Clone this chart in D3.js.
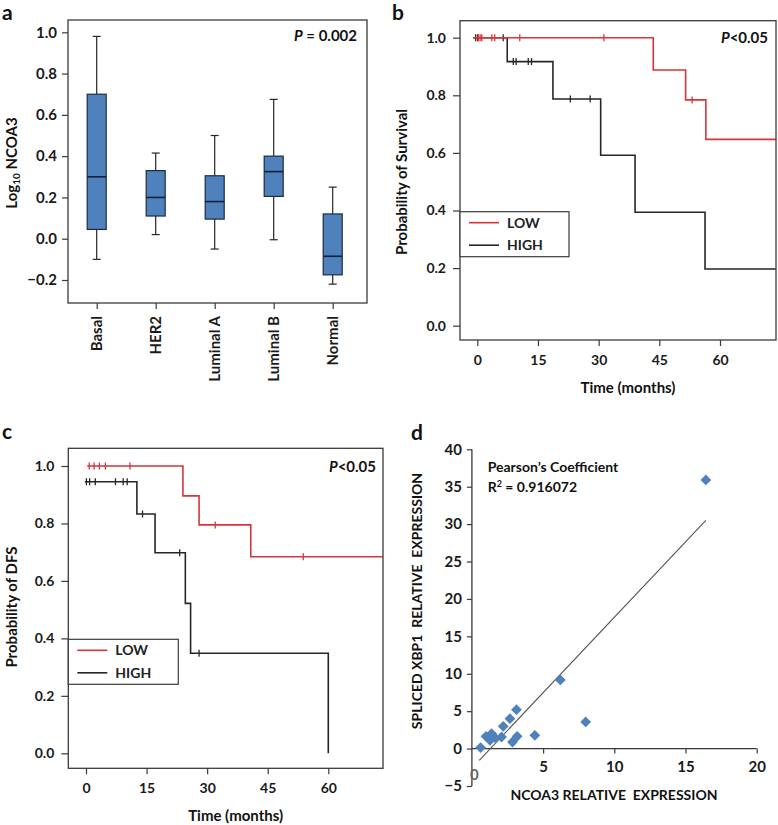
<!DOCTYPE html>
<html><head><meta charset="utf-8">
<script src="https://cdn.jsdelivr.net/npm/d3@7"></script>
<style>
html,body{margin:0;padding:0;background:#fff;}
svg text{font-family:Lato,"Open Sans",sans-serif;}
</style></head>
<body><svg id="c" width="778" height="825"></svg>
<script>
// ---------- Panel a data ----------
const categories = ["Basal","HER2","Luminal A","Luminal B","Normal"];
const boxMax    = [0.98, 0.415, 0.50, 0.675, 0.25];
const boxQ3     = [0.70, 0.33, 0.305, 0.40, 0.12];
const boxMedian = [0.30, 0.20, 0.18, 0.325, -0.085];
const boxQ1     = [0.045, 0.11, 0.095, 0.205, -0.175];
const boxMin    = [-0.10, 0.02, -0.05, -0.005, -0.22];
const aTicks = [-0.2, 0.0, 0.2, 0.4, 0.6, 0.8, 1.0];

// ---------- Panel b data (overall survival) ----------
const bLowTime  = [-1, 43.5, 51.5, 56.5, 73.8];
const bLowSurv  = [1, 0.888, 0.784, 0.647, 0.647];
const bLowCensorTime = [0.25, 0.7, 1.1, 3.6, 4.3, 10.5, 31.3, 53.1];
const bLowCensorSurv = [1, 1, 1, 1, 1, 1, 1, 0.784];
const bHighTime = [-1, 7.4, 18.7, 30.5, 39.0, 56.3, 73.8];
const bHighSurv = [1, 0.917, 0.787, 0.592, 0.394, 0.197, 0.197];
const bHighCensorTime = [-0.4, 0.1, 6.4, 8.9, 9.6, 12.6, 13.4, 23.0, 27.9];
const bHighCensorSurv = [1, 1, 1, 0.917, 0.917, 0.917, 0.917, 0.787, 0.787];

// ---------- Panel c data (DFS) ----------
const cLowTime  = [0.3, 24.0, 28.0, 40.8, 73.5];
const cLowSurv  = [1, 0.896, 0.795, 0.684, 0.684];
const cLowCensorTime = [0.8, 2.0, 3.3, 4.8, 10.9, 32.0, 53.8];
const cLowCensorSurv = [1, 1, 1, 1, 1, 0.795, 0.684];
const cHighTime = [-0.3, 12.6, 17.1, 24.6, 25.9, 60.0];
const cHighSurv = [0.945, 0.833, 0.698, 0.522, 0.348, 0.0];
const cHighCensorTime = [0.1, 0.9, 2.3, 7.3, 9.2, 10.2, 14.0, 23.2, 28.0];
const cHighCensorSurv = [0.945, 0.945, 0.945, 0.945, 0.945, 0.945, 0.833, 0.698, 0.348];
const kmXTicks = [0, 15, 30, 45, 60];
const kmYTicks = [0, 0.2, 0.4, 0.6, 0.8, 1.0];

// ---------- Panel d data ----------
const ncoa3 = [0.61, 0.99, 1.38, 1.27, 1.62, 2.08, 2.2, 2.67, 3.13, 2.85, 3.18, 4.42, 6.21, 7.99, 16.43];
const xbp1  = [0.13, 1.64, 2.0, 1.11, 1.47, 1.55, 2.98, 4.0, 5.2, 0.88, 1.64, 1.78, 9.18, 3.56, 35.9];
const trendSlope = 2.015, trendIntercept = -2.61;
const dXTicks = [0, 5, 10, 15, 20];
const dYTicks = [-5, 0, 5, 10, 15, 20, 25, 30, 35, 40];

const svg = d3.select("#c");
svg.append("rect").attr("width",778).attr("height",825).attr("fill","#fff");
const RED = "#d8343a", BLK = "#262626", BLUE = "#4f81bd", FRAME = "#3a3a3a";

function panelLabel(t,x,y){
  svg.append("text").attr("x",x).attr("y",y).attr("font-size",21).attr("font-weight",700).attr("fill","#111").text(t);
}
function styleAxis(g, fs){
  g.selectAll("path.domain").remove();
  g.selectAll(".tick line").attr("stroke",FRAME).attr("stroke-width",1.2);
  g.selectAll(".tick text").attr("font-size",fs).attr("font-weight",700).attr("fill","#1a1a1a")
    .attr("font-family","Lato, 'Open Sans', sans-serif");
}

// ================= Panel a =================
(function(){
  const L=68, R=367, T=20, B=303;
  const y = d3.scaleLinear().domain([-0.2,1.0]).range([280,32.3]);
  const x = d3.scalePoint().domain(categories).range([96.7,332.7]);
  svg.append("rect").attr("x",L).attr("y",T).attr("width",R-L).attr("height",B-T)
    .attr("fill","none").attr("stroke",FRAME).attr("stroke-width",1.3);
  const ya = svg.append("g").attr("transform",`translate(${L},0)`)
    .call(d3.axisLeft(y).tickValues(aTicks).tickFormat(d3.format(".1f")).tickSize(6).tickPadding(5));
  styleAxis(ya,15);
  const xa = svg.append("g").attr("transform",`translate(0,${B})`)
    .call(d3.axisBottom(x).tickSize(6).tickFormat(""));
  styleAxis(xa,15);
  categories.forEach(c=>{
    svg.append("text").attr("transform",`translate(${x(c)+5},${316}) rotate(-90)`)
      .attr("text-anchor","end").attr("font-size",15).attr("font-weight",700).attr("fill","#1a1a1a").text(c);
  });
  const bw = 19, cw = 8;
  const g = svg.append("g");
  categories.forEach((c,i)=>{
    const cx = x(c);
    g.append("line").attr("x1",cx).attr("x2",cx).attr("y1",y(boxMax[i])).attr("y2",y(boxQ3[i])).attr("stroke",BLK).attr("stroke-width",1.2);
    g.append("line").attr("x1",cx).attr("x2",cx).attr("y1",y(boxQ1[i])).attr("y2",y(boxMin[i])).attr("stroke",BLK).attr("stroke-width",1.2);
    [boxMax[i],boxMin[i]].forEach(v=>g.append("line").attr("x1",cx-cw/2).attr("x2",cx+cw/2).attr("y1",y(v)).attr("y2",y(v)).attr("stroke",BLK).attr("stroke-width",1.2));
    g.append("rect").attr("x",cx-bw/2).attr("width",bw).attr("y",y(boxQ3[i])).attr("height",y(boxQ1[i])-y(boxQ3[i]))
      .attr("fill",BLUE).attr("stroke","#1c2b45").attr("stroke-width",1.2);
    g.append("line").attr("x1",cx-bw/2).attr("x2",cx+bw/2).attr("y1",y(boxMedian[i])).attr("y2",y(boxMedian[i])).attr("stroke","#14213a").attr("stroke-width",1.6);
  });
  const yl = svg.append("text").attr("transform","translate(17,163) rotate(-90)").attr("text-anchor","middle")
    .attr("font-size",15).attr("font-weight",700).attr("fill","#111");
  yl.append("tspan").text("Log");
  yl.append("tspan").attr("font-size",10).attr("dy",3).text("10");
  yl.append("tspan").attr("dy",-3).text(" NCOA3");
  const pt = svg.append("text").attr("x",357).attr("y",41).attr("text-anchor","end").attr("font-size",15).attr("font-weight",700).attr("fill","#111");
  pt.append("tspan").attr("font-style","italic").text("P");
  pt.append("tspan").text(" = 0.002");
  panelLabel("a",2,20);
})();

// ================= KM panels =================
function kmPanel(o){
  const x = d3.scaleLinear().domain([0,60]).range([o.x0,o.x60]);
  const y = d3.scaleLinear().domain([0,1]).range([o.y0,o.y1]);
  const clipId = "clip"+o.id;
  svg.append("clipPath").attr("id",clipId).append("rect").attr("x",o.L).attr("y",o.T).attr("width",o.R-o.L).attr("height",o.B-o.T);
  const ya = svg.append("g").attr("transform",`translate(${o.L},0)`)
    .call(d3.axisLeft(y).tickValues(kmYTicks).tickFormat(d3.format(".1f")).tickSize(7).tickPadding(7));
  styleAxis(ya,14);
  const xa = svg.append("g").attr("transform",`translate(0,${o.B})`)
    .call(d3.axisBottom(x).tickValues(kmXTicks).tickSize(6).tickPadding(9));
  styleAxis(xa,14);
  const line = d3.line().x(d=>x(d[0])).y(d=>y(d[1])).curve(d3.curveStepAfter);
  const g = svg.append("g").attr("clip-path",`url(#${clipId})`);
  const series = [
    {t:o.highT,s:o.highS,ct:o.highCT,cs:o.highCS,col:BLK},
    {t:o.lowT,s:o.lowS,ct:o.lowCT,cs:o.lowCS,col:RED}
  ];
  series.forEach(sr=>{
    g.append("path").attr("d",line(sr.t.map((t,i)=>[t,sr.s[i]]))).attr("fill","none").attr("stroke",sr.col).attr("stroke-width",1.6);
    sr.ct.forEach((t,i)=>{
      g.append("line").attr("x1",x(t)).attr("x2",x(t)).attr("y1",y(sr.cs[i])-3.5).attr("y2",y(sr.cs[i])+3.5).attr("stroke",sr.col).attr("stroke-width",1.3);
    });
  });
  svg.append("rect").attr("x",o.L).attr("y",o.T).attr("width",o.R-o.L).attr("height",o.B-o.T)
    .attr("fill","none").attr("stroke",FRAME).attr("stroke-width",1.3);
  // legend
  const lg = svg.append("g");
  lg.append("rect").attr("x",o.legX).attr("y",o.legY).attr("width",o.legW).attr("height",45).attr("fill","#fff").attr("stroke",FRAME).attr("stroke-width",1.2);
  [["LOW",RED,11],["HIGH",BLK,33.5]].forEach(([lab,col,dy])=>{
    lg.append("line").attr("x1",o.legX+9).attr("x2",o.legX+39).attr("y1",o.legY+dy).attr("y2",o.legY+dy).attr("stroke",col).attr("stroke-width",1.6);
    lg.append("text").attr("x",o.legX+47).attr("y",o.legY+dy+5).attr("font-size",14).attr("font-weight",700).attr("fill","#222").text(lab);
  });
  svg.append("text").attr("x",(o.L+o.R)/2+10).attr("y",o.B+53).attr("text-anchor","middle").attr("font-size",15).attr("font-weight",700).attr("fill","#111").text("Time (months)");
  svg.append("text").attr("transform",`translate(${o.ylx},${o.yly}) rotate(-90)`).attr("text-anchor","middle").attr("font-size",15).attr("font-weight",700).attr("fill","#111").text(o.ytitle);
  const pt = svg.append("text").attr("x",o.px).attr("y",o.py).attr("text-anchor","end").attr("font-size",15).attr("font-weight",700).attr("fill","#111");
  pt.append("tspan").attr("font-style","italic").text("P");
  pt.append("tspan").text("<0.05");
}
kmPanel({id:"b",L:460,R:776,T:20.7,B:340,x0:477.3,x60:720,y0:325.7,y1:37.7,
  lowT:bLowTime,lowS:bLowSurv,lowCT:bLowCensorTime,lowCS:bLowCensorSurv,
  highT:bHighTime,highS:bHighSurv,highCT:bHighCensorTime,highCS:bHighCensorSurv,
  legX:460,legY:211.7,legW:109,ytitle:"Probability of Survival",ylx:407,yly:182,px:768,py:43});
kmPanel({id:"c",L:68.3,R:383,T:448.3,B:768.3,x0:86,x60:328.3,y0:753.3,y1:466,
  lowT:cLowTime,lowS:cLowSurv,lowCT:cLowCensorTime,lowCS:cLowCensorSurv,
  highT:cHighTime,highS:cHighSurv,highCT:cHighCensorTime,highCS:cHighCensorSurv,
  legX:68.3,legY:639.3,legW:110,ytitle:"Probability of DFS",ylx:17,yly:607,px:376,py:472});
panelLabel("b",392,20);
panelLabel("c",2,439);

// ================= Panel d =================
(function(){
  const x = d3.scaleLinear().domain([0,20]).range([471.9,756.7]);
  const y = d3.scaleLinear().domain([-5,40]).range([786,449.3]);
  const ya = svg.append("g").attr("transform",`translate(${x(0)},0)`)
    .call(d3.axisLeft(y).tickValues(dYTicks).tickSize(5).tickPadding(5));
  styleAxis(ya,15);
  svg.append("line").attr("x1",x(0)).attr("x2",x(0)).attr("y1",y(40)).attr("y2",y(-5)).attr("stroke",FRAME).attr("stroke-width",1.3);
  const xa = svg.append("g").attr("transform",`translate(0,${y(0)})`)
    .call(d3.axisBottom(x).tickValues(dXTicks).tickSize(5).tickPadding(8));
  styleAxis(xa,15);
  xa.selectAll(".tick").filter(d=>d===0).select("line").remove();
  xa.selectAll(".tick").filter(d=>d===0).select("text").attr("fill","#666").attr("dx",2).attr("dy","1.2em");
  svg.append("line").attr("x1",x(0)).attr("x2",x(20)).attr("y1",y(0)).attr("y2",y(0)).attr("stroke",FRAME).attr("stroke-width",1.3);
  const xmin = d3.min(ncoa3)-0.09, xmax = d3.max(ncoa3);
  svg.append("line").attr("x1",x(xmin)).attr("y1",y(trendSlope*xmin+trendIntercept))
    .attr("x2",x(xmax)).attr("y2",y(trendSlope*xmax+trendIntercept)).attr("stroke","#555").attr("stroke-width",1.1);
  const sym = d3.symbol().type(d3.symbolSquare).size(58);
  ncoa3.forEach((v,i)=>{
    svg.append("path").attr("d",sym()).attr("transform",`translate(${x(v)},${y(xbp1[i])}) rotate(45)`).attr("fill",BLUE);
  });
  svg.append("text").attr("x",487.7).attr("y",472).attr("font-size",14).attr("font-weight",700).attr("fill","#111").text("Pearson’s Coefficient");
  const r = svg.append("text").attr("x",487.7).attr("y",492).attr("font-size",14).attr("font-weight",700).attr("fill","#111");
  r.append("tspan").text("R");
  r.append("tspan").attr("font-size",9).attr("dy",-5).text("2");
  r.append("tspan").attr("dy",5).text(" = 0.916072");
  svg.append("text").attr("transform","translate(422,601) rotate(-90)").attr("text-anchor","middle").attr("font-size",14).attr("font-weight",700).attr("fill","#111")
    .attr("xml:space","preserve").text("SPLICED XBP1  RELATIVE  EXPRESSION");
  svg.append("text").attr("x",614).attr("y",800).attr("text-anchor","middle").attr("font-size",14).attr("font-weight",700).attr("fill","#111")
    .attr("xml:space","preserve").text("NCOA3 RELATIVE  EXPRESSION");
  panelLabel("d",411,440);
})();
</script></body></html>
